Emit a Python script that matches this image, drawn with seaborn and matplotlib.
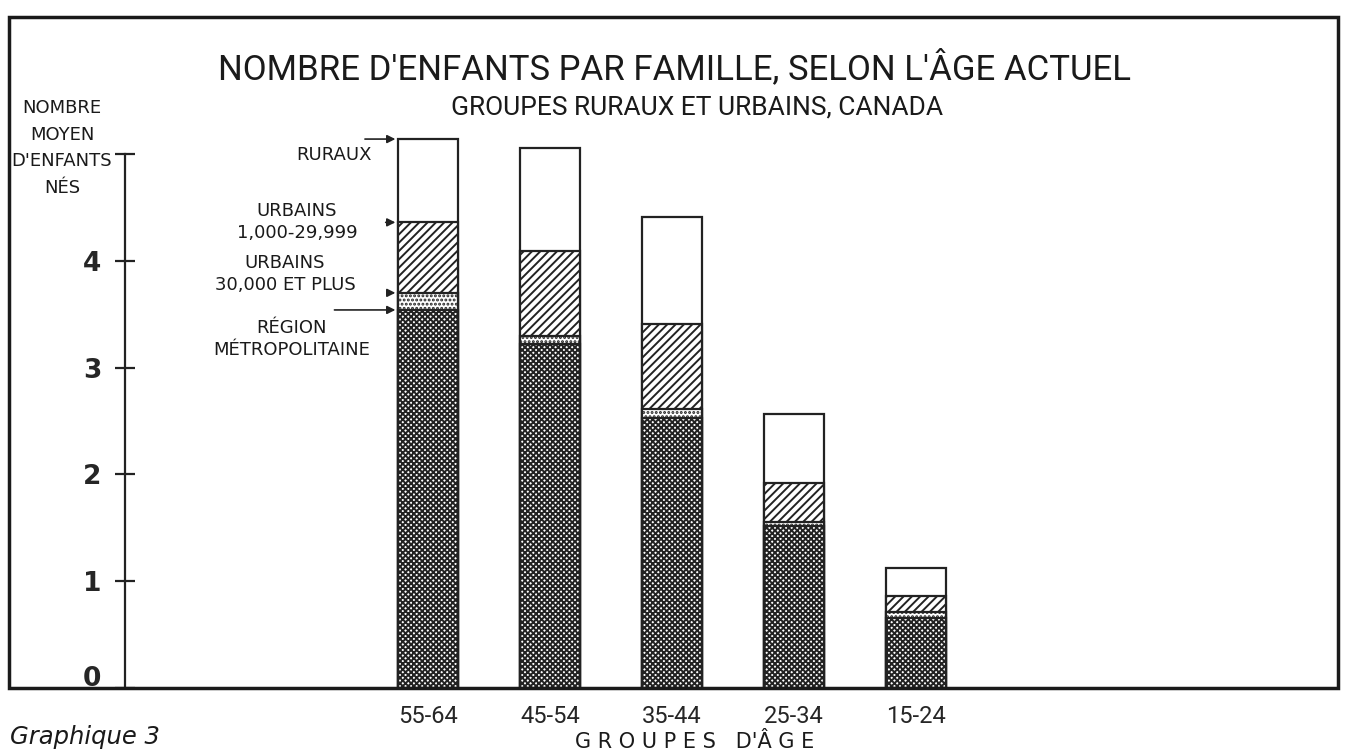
import matplotlib
matplotlib.use("Agg")
import matplotlib.pyplot as plt
import matplotlib.transforms as mtrans
import seaborn as sns
import pandas as pd
from matplotlib.patches import Rectangle

# valeurs (nombre moyen d'enfants nés)
ages = ["55-64", "45-54", "35-44", "25-34", "15-24"]
ruraux = [5.14, 5.06, 4.41, 2.57, 1.12]
urbains_petits = [4.36, 4.09, 3.41, 1.92, 0.86]
urbains_grands = [3.70, 3.30, 2.61, 1.55, 0.71]
metropole = [3.54, 3.22, 2.53, 1.52, 0.66]

groupes = ["RURAUX", "URBAINS\n1,000-29,999", "URBAINS\n30,000 ET PLUS", "RÉGION\nMÉTROPOLITAINE"]
series = [ruraux, urbains_petits, urbains_grands, metropole]
hachures = [None, "////", "....", "xxxxxx"]

df = pd.DataFrame({"age": ages, "ruraux": ruraux, "urb_p": urbains_petits,
                   "urb_g": urbains_grands, "metro": metropole})

sns.set_style("white")
plt.rcParams["hatch.linewidth"] = 1.4
etroit = ["Roboto", "DejaVu Sans"]

W, H = 1350, 754
fig = plt.figure(figsize=(W / 100, H / 100), dpi=100)
ax = fig.add_axes([125 / W, (H - 688) / H, (1338 - 125) / W, (688 - 17) / H])

largeur = 0.49
for col, h in zip(["ruraux", "urb_p", "urb_g", "metro"], hachures):
    kw = {} if h is None else {"hatch": h}
    sns.barplot(data=df, x="age", y=col, order=ages, color="white", saturation=1,
                width=largeur, edgecolor="#222222", linewidth=1.6, ax=ax, **kw)

ax.set_xlim(-2.484, 7.459)
ax.set_ylim(0, 6.283)
ax.set_xlabel("")
ax.set_ylabel("")

for s in ["top", "right", "bottom"]:
    ax.spines[s].set_visible(False)
ax.spines["left"].set_bounds(0, 5)
ax.spines["left"].set_linewidth(1.6)
ax.spines["left"].set_color("#222222")

ax.set_yticks([0, 1, 2, 3, 4, 5])
ax.set_yticklabels(["0", "1", "2", "3", "4", ""], fontsize=19, fontweight="bold")
ax.tick_params(axis="y", direction="inout", length=14, width=1.6, pad=10, left=True,
               color="#222222")
# le zéro est un peu remonté sur l'original
lab0 = ax.get_yticklabels()[0]
lab0.set_transform(lab0.get_transform() + mtrans.ScaledTranslation(0, 9 / 72, fig.dpi_scale_trans))

ax.tick_params(axis="x", length=0, pad=12)
ax.set_xticks(range(len(ages)))
ax.set_xticklabels(ages, fontsize=17, family=etroit)

# flèches de la légende sur la première barre
gauche = -largeur / 2
departs = [-0.54, -0.37, -0.35, -0.79]
for val, x0 in zip([s[0] for s in series], departs):
    ax.annotate("", xy=(gauche, val), xytext=(x0, val),
                arrowprops=dict(arrowstyle="-|>", color="#222222", lw=1.2,
                                mutation_scale=12))

pos_textes = [(372, 155, "right"), (297, 222, "center"), (285, 274, "center"),
              (292, 339, "center")]
for txt, (px, py, ha) in zip(groupes, pos_textes):
    fig.text(px / W, 1 - py / H, txt, ha=ha, va="center", fontsize=13,
             linespacing=1.35, color="#1a1a1a")

# cadre
fig.patches.append(Rectangle((9 / W, (H - 688) / H), (1338 - 9) / W, (688 - 17) / H,
                             transform=fig.transFigure, fill=False, lw=2.5,
                             edgecolor="#1a1a1a"))

fig.text(675 / W, 1 - 68 / H, "NOMBRE D'ENFANTS PAR FAMILLE, SELON L'ÂGE ACTUEL",
         ha="center", va="center", fontsize=25, family=etroit, color="#1a1a1a")
fig.text(697 / W, 1 - 108 / H, "GROUPES RURAUX ET URBAINS, CANADA",
         ha="center", va="center", fontsize=19, family=etroit, color="#1a1a1a")
fig.text(62 / W, 1 - 148 / H, "NOMBRE\nMOYEN\nD'ENFANTS\nNÉS", ha="center", va="center",
         fontsize=13, linespacing=1.6, color="#1a1a1a")
fig.text(695 / W, 1 - 742 / H, "G R O U P E S   D'Â G E", ha="center", va="center",
         fontsize=15, color="#1a1a1a")
fig.text(10 / W, 1 - 737 / H, "Graphique 3", ha="left", va="center", fontsize=17.5,
         style="italic", color="#1a1a1a")

fig.savefig("out.png", dpi=100)
